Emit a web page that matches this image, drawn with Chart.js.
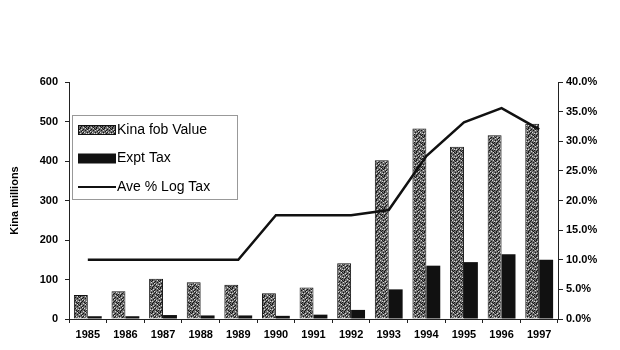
<!DOCTYPE html>
<html>
<head>
<meta charset="utf-8">
<script src="https://cdn.jsdelivr.net/npm/chart.js@4.4.1/dist/chart.umd.min.js"></script>
<style>
  body { margin: 0; background: #fff; }
  #wrap { width: 620px; height: 350px; }
</style>
</head>
<body>
<div id="wrap"><canvas id="exportChart" width="620" height="350"></canvas></div>
<script>
const years = ['1985', '1986', '1987', '1988', '1989', '1990', '1991', '1992', '1993', '1994', '1995', '1996', '1997'];
const kinaFob = [61, 70, 102, 93, 87, 65, 80, 141, 402, 482, 436, 465, 494];
const exptTax = [7, 7, 10, 9, 9, 8, 11, 23, 75, 135, 144, 164, 150];
const logTaxPct = [10.0, 10.0, 10.0, 10.0, 10.0, 17.5, 17.5, 17.5, 18.4, 27.5, 33.2, 35.6, 32.0];

const FONT = 'Liberation Sans, Arial, sans-serif';

// speckled grey fill for the fob value bars
function makeSpeckle() {
    const c = document.createElement('canvas');
    c.width = 8; c.height = 8;
    const g = c.getContext('2d');
    g.fillStyle = '#6e6e6e';
    g.fillRect(0, 0, 8, 8);
    const dark = [[0,0],[3,1],[6,0],[1,3],[5,2],[7,4],[2,5],[4,6],[0,7],[6,6],[3,4],[1,6],[5,7],[7,1],[2,2]];
    const light = [[1,1],[5,0],[2,3],[7,2],[4,4],[0,5],[6,5],[3,7]];
    g.fillStyle = '#151515';
    dark.forEach(p => g.fillRect(p[0], p[1], 1, 1));
    g.fillStyle = '#d8d8d8';
    light.forEach(p => g.fillRect(p[0], p[1], 1, 1));
    return g.createPattern(c, 'repeat');
}

const speckle = makeSpeckle();

// legend box drawn inside the plot area
const boxLegend = {
    id: 'boxLegend',
    afterDraw(chart) {
        const ctx = chart.ctx;
        const x = 72, y = 115, w = 165, h = 84;
        ctx.save();
        ctx.fillStyle = '#fff';
        ctx.fillRect(x, y, w, h);
        ctx.strokeStyle = '#333';
        ctx.lineWidth = 1;
        ctx.setLineDash([1, 1]);
        ctx.strokeRect(x + 0.5, y + 0.5, w, h);
        ctx.setLineDash([]);
        ctx.font = '14px ' + FONT;
        ctx.textBaseline = 'middle';
        ctx.fillStyle = '#000';
        const rows = [
            { label: 'Kina fob Value', kind: 'pattern' },
            { label: 'Expt Tax', kind: 'solid' },
            { label: 'Ave % Log Tax', kind: 'line' }
        ];
        rows.forEach((r, i) => {
            const cy = y + 15 + i * 28.5;
            if (r.kind === 'pattern') {
                ctx.fillStyle = speckle;
                ctx.fillRect(x + 6, cy - 5, 38, 10);
                ctx.strokeStyle = '#111';
                ctx.strokeRect(x + 6.5, cy - 4.5, 37, 9);
            } else if (r.kind === 'solid') {
                ctx.fillStyle = '#111';
                ctx.fillRect(x + 6, cy - 5, 38, 10);
            } else {
                ctx.strokeStyle = '#111';
                ctx.lineWidth = 2;
                ctx.beginPath();
                ctx.moveTo(x + 6, cy);
                ctx.lineTo(x + 44, cy);
                ctx.stroke();
            }
            ctx.fillStyle = '#000';
            ctx.fillText(r.label, x + 45, cy);
        });
        ctx.restore();
    }
};

const tickFont = { family: FONT, size: 11, weight: 'bold' };

new Chart(document.getElementById('exportChart'), {
    type: 'bar',
    data: {
        labels: years,
        datasets: [
            {
                type: 'line',
                label: 'Ave % Log Tax',
                data: logTaxPct,
                yAxisID: 'y1',
                borderColor: '#111',
                borderWidth: 2.5,
                pointRadius: 0,
                tension: 0,
                order: 0
            },
            {
                label: 'Kina fob Value',
                data: kinaFob,
                yAxisID: 'y',
                backgroundColor: speckle,
                borderColor: '#111',
                borderWidth: 1,
                categoryPercentage: 0.74,
                barPercentage: 1,
                order: 1
            },
            {
                label: 'Expt Tax',
                data: exptTax,
                yAxisID: 'y',
                backgroundColor: '#111',
                borderWidth: 0,
                categoryPercentage: 0.74,
                barPercentage: 1,
                order: 1
            }
        ]
    },
    options: {
        responsive: false,
        animation: false,
        layout: { padding: { top: 82, left: 4, right: 0, bottom: 0 } },
        plugins: {
            legend: { display: false },
            tooltip: { enabled: false }
        },
        scales: {
            x: {
                offset: true,
                grid: { display: true, drawOnChartArea: false, offset: true, tickLength: 4, color: '#222' },
                border: { color: '#222', width: 1 },
                ticks: { color: '#000', font: tickFont, padding: 5, maxRotation: 0, autoSkip: false },
                afterFit: s => { s.height = 31; }
            },
            y: {
                position: 'left',
                min: 0, max: 600,
                grid: { drawOnChartArea: false, tickLength: 4, color: '#222' },
                border: { color: '#222', width: 1 },
                ticks: { stepSize: 100, color: '#000', font: tickFont, padding: 7 },
                title: { display: true, text: 'Kina millions', color: '#000', font: { family: FONT, size: 11, weight: 'bold' }, padding: 4 },
                afterFit: s => { s.width = 65; }
            },
            y1: {
                position: 'right',
                min: 0, max: 40,
                grid: { drawOnChartArea: false, tickLength: 5, color: '#222' },
                border: { color: '#222', width: 1 },
                ticks: {
                    stepSize: 5, color: '#000', font: tickFont, padding: 3,
                    callback: v => v.toFixed(1) + '%'
                },
                afterFit: s => { s.width = 62; }
            }
        }
    },
    plugins: [boxLegend]
});
</script>
</body>
</html>
